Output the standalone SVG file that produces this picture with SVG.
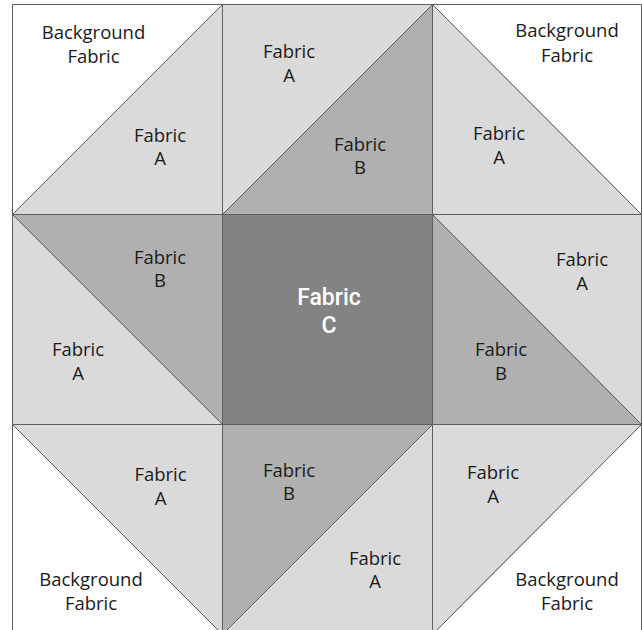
<svg xmlns="http://www.w3.org/2000/svg" width="642" height="630" viewBox="0 0 642 630">
<style>
.bg{fill:#ffffff}
.a{fill:#dadada}
.b{fill:#b0b0b0}
.c{fill:#838383}
.p{stroke:#5f5f5f;stroke-width:1;stroke-linejoin:miter}
.t{font-family:"Open Sans","Liberation Sans",sans-serif;font-size:18.5px;fill:#1a1a1a;text-anchor:middle}
.tc{font-family:Roboto,"Liberation Sans",sans-serif;font-size:23px;font-weight:500;fill:#ffffff;text-anchor:middle}
</style>
<rect x="0" y="0" width="642" height="630" fill="#ffffff"/>
<g id="cell-top-left">
<polygon class="bg p" points="12.5,4.5 222.5,4.5 12.5,214.5"/>
<polygon class="a p" points="222.5,4.5 222.5,214.5 12.5,214.5"/>
<text class="t" x="93.5" y="39">Background</text>
<text class="t" x="93.5" y="63">Fabric</text>
<text class="t" x="160" y="142">Fabric</text>
<text class="t" x="160" y="165">A</text>
</g>
<g id="cell-top-middle">
<polygon class="a p" points="222.5,4.5 432.5,4.5 222.5,214.5"/>
<polygon class="b p" points="432.5,4.5 432.5,214.5 222.5,214.5"/>
<text class="t" x="289" y="58">Fabric</text>
<text class="t" x="289" y="82">A</text>
<text class="t" x="360" y="151">Fabric</text>
<text class="t" x="360" y="174">B</text>
</g>
<g id="cell-top-right">
<polygon class="bg p" points="432.5,4.5 641.5,4.5 641.5,214.5"/>
<polygon class="a p" points="432.5,4.5 641.5,214.5 432.5,214.5"/>
<text class="t" x="567" y="37">Background</text>
<text class="t" x="567" y="62">Fabric</text>
<text class="t" x="499" y="140">Fabric</text>
<text class="t" x="499" y="164">A</text>
</g>
<g id="cell-middle-left">
<polygon class="b p" points="12.5,214.5 222.5,214.5 222.5,424.5"/>
<polygon class="a p" points="12.5,214.5 222.5,424.5 12.5,424.5"/>
<text class="t" x="160" y="264">Fabric</text>
<text class="t" x="160" y="287">B</text>
<text class="t" x="78" y="356">Fabric</text>
<text class="t" x="78" y="380">A</text>
</g>
<g id="cell-center">
<rect class="c p" x="222.5" y="214.5" width="210" height="210"/>
<text class="tc" x="329" y="305">Fabric</text>
<text class="tc" x="329" y="333">C</text>
</g>
<g id="cell-middle-right">
<polygon class="a p" points="432.5,214.5 641.5,214.5 641.5,424.5"/>
<polygon class="b p" points="432.5,214.5 641.5,424.5 432.5,424.5"/>
<text class="t" x="582" y="266">Fabric</text>
<text class="t" x="582" y="290">A</text>
<text class="t" x="501" y="356">Fabric</text>
<text class="t" x="501" y="380">B</text>
</g>
<g id="cell-bottom-left">
<polygon class="a p" points="12.5,424.5 222.5,424.5 222.5,634.5"/>
<polygon class="bg p" points="12.5,424.5 222.5,634.5 12.5,634.5"/>
<text class="t" x="160.5" y="481">Fabric</text>
<text class="t" x="160.5" y="505">A</text>
<text class="t" x="91" y="586">Background</text>
<text class="t" x="91" y="610">Fabric</text>
</g>
<g id="cell-bottom-middle">
<polygon class="b p" points="222.5,424.5 432.5,424.5 222.5,634.5"/>
<polygon class="a p" points="432.5,424.5 432.5,634.5 222.5,634.5"/>
<text class="t" x="289" y="477">Fabric</text>
<text class="t" x="289" y="500">B</text>
<text class="t" x="375" y="565">Fabric</text>
<text class="t" x="375" y="588">A</text>
</g>
<g id="cell-bottom-right">
<polygon class="a p" points="432.5,424.5 641.5,424.5 432.5,634.5"/>
<polygon class="bg p" points="641.5,424.5 641.5,634.5 432.5,634.5"/>
<text class="t" x="493" y="479">Fabric</text>
<text class="t" x="493" y="503">A</text>
<text class="t" x="567" y="586">Background</text>
<text class="t" x="567" y="610">Fabric</text>
</g>
<g id="connectors"/>
</svg>
